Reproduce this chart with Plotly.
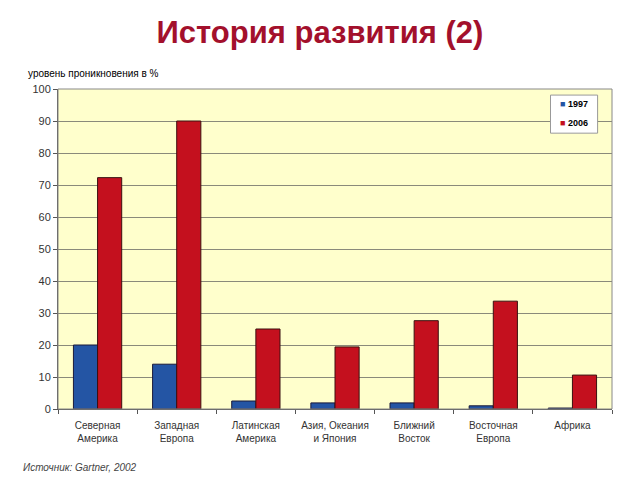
import plotly.graph_objects as go

categories = ["Северная<br>Америка", "Западная<br>Европа", "Латинская<br>Америка",
              "Азия, Океания<br>и Япония", "Ближний<br>Восток", "Восточная<br>Европа", "Африка"]
values_1997 = [20, 14, 2.5, 1.9, 1.9, 1.0, 0.3]
values_2006 = [72.3, 90, 25, 19.4, 27.6, 33.7, 10.6]
y_ticks = [0, 10, 20, 30, 40, 50, 60, 70, 80, 90, 100]
series_names = ["1997", "2006"]
series_colors = ["#2455A4", "#C4101E"]

fig = go.Figure()
fig.add_trace(go.Bar(x=categories, y=values_1997, name=series_names[0],
                     marker=dict(color=series_colors[0], line=dict(color="#1a1a3a", width=1))))
fig.add_trace(go.Bar(x=categories, y=values_2006, name=series_names[1],
                     marker=dict(color=series_colors[1], line=dict(color="#3a1010", width=1))))

font = "Liberation Sans, Arial, sans-serif"
fig.update_layout(
    width=640, height=480,
    margin=dict(l=58, r=28, t=89, b=71),
    paper_bgcolor="white", plot_bgcolor="#FFFFCC",
    barmode="group", bargap=0.39, bargroupgap=0,
    font=dict(family=font, size=11, color="#333333"),
    showlegend=False,
    title=dict(text="<b>История развития (2)</b>", x=0.5, xanchor="center",
               y=0.933, yanchor="middle",
               font=dict(family=font, size=31, color="#A3102C")),
    annotations=[
        dict(text="уровень проникновения в %", xref="paper", yref="paper",
             x=-0.058, y=1.024, xanchor="left", yanchor="bottom", showarrow=False,
             font=dict(size=10, color="#000000")),
        dict(text="<i>Источник: Gartner, 2002</i>", xref="paper", yref="paper",
             x=-0.067, y=-0.16, xanchor="left", yanchor="top", showarrow=False,
             font=dict(size=10, color="#444444")),
    ],
)
# legend box
fig.add_shape(type="rect", xref="paper", yref="paper", x0=0.889, x1=0.974, y0=0.862, y1=0.981,
              line=dict(color="#999999", width=1), fillcolor="white", layer="above")
for i, (nm, col) in enumerate(zip(series_names, series_colors)):
    fig.add_annotation(text=f'<span style="color:{col}">■</span> <b>{nm}</b>',
                       xref="paper", yref="paper", x=0.902, y=0.953 - i * 0.06,
                       xanchor="left", yanchor="middle", showarrow=False,
                       font=dict(size=9, color="#000000"))

fig.update_yaxes(range=[0, 100], tickvals=y_ticks, showgrid=True, gridcolor="#8a8a7a",
                 gridwidth=1, showline=True, linecolor="#555555", ticks="outside",
                 ticklen=4, tickcolor="#555555", zeroline=False,
                 tickfont=dict(size=11, color="#333333"), mirror=False)
fig.update_xaxes(showline=True, linecolor="#555555", ticks="outside", tickson="boundaries",
                 ticklen=4, tickcolor="#555555", ticklabelstandoff=7,
                 tickfont=dict(size=10, color="#333333"))
fig.add_shape(type="rect", xref="paper", yref="paper", x0=0, y0=0, x1=1, y1=1,
              line=dict(color="#888888", width=1), layer="above")

fig.write_html("out.html")
